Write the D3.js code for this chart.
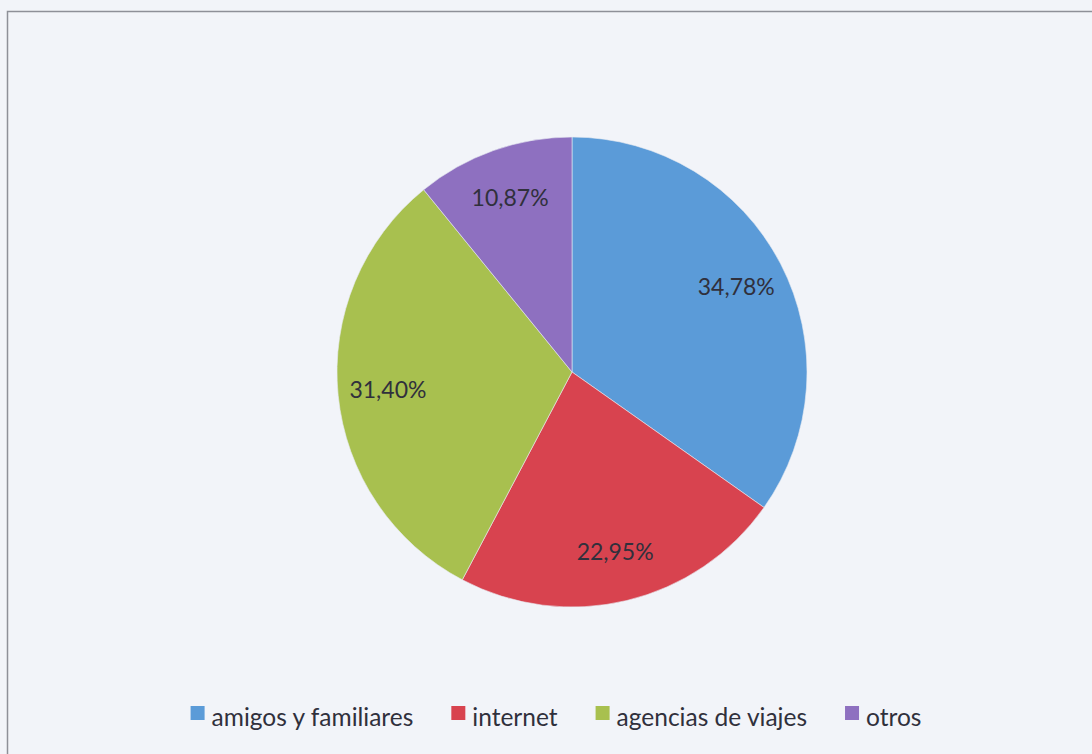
<!DOCTYPE html>
<html>
<head>
<meta charset="utf-8">
<script src="https://cdn.jsdelivr.net/npm/d3@7"></script>
<style>
  html, body { margin: 0; padding: 0; background: #f2f4f9; }
  svg { display: block; }
</style>
</head>
<body>
<svg id="chart" width="1092" height="754"></svg>
<script>
// Canales de información del viaje (porcentaje de respuestas)
const categories = ["amigos y familiares", "internet", "agencias de viajes", "otros"];
const values = [34.78, 22.95, 31.40, 10.87];
const valueLabels = ["34,78%", "22,95%", "31,40%", "10,87%"];
const colors = ["#5b9bd8", "#d8434f", "#a8c04f", "#8e70c0"];

const W = 1092, H = 754;
const cx = 572, cy = 372, R = 235;
const fontFamily = "Lato, 'Open Sans', sans-serif";
const textColor = "#30303c";

const svg = d3.select("#chart");

// fondo y marco del gráfico
svg.append("rect").attr("width", W).attr("height", H).attr("fill", "#f2f4f9");
svg.append("path")
  .attr("d", "M7.5," + H + " V11.5 H" + W)
  .attr("fill", "none")
  .attr("stroke", "#8e9098")
  .attr("stroke-width", 1.5);

const data = categories.map((c, i) => ({ name: c, value: values[i], label: valueLabels[i], color: colors[i] }));

const pie = d3.pie().value(d => d.value).sort(null).startAngle(0).endAngle(2 * Math.PI);
const arcs = pie(data);

const arc = d3.arc().innerRadius(0).outerRadius(R);
const labelArc = d3.arc().innerRadius(185).outerRadius(185);

const g = svg.append("g").attr("transform", `translate(${cx},${cy})`);

g.selectAll("path.slice")
  .data(arcs)
  .join("path")
  .attr("class", "slice")
  .attr("d", arc)
  .attr("fill", d => d.data.color)
  .attr("stroke", "#e8ebf2")
  .attr("stroke-width", 0.6);

g.selectAll("text.value")
  .data(arcs)
  .join("text")
  .attr("class", "value")
  .attr("transform", d => `translate(${labelArc.centroid(d)})`)
  .attr("text-anchor", "middle")
  .attr("dy", "0.35em")
  .attr("font-family", fontFamily)
  .attr("font-size", 23)
  .attr("fill", textColor)
  .text(d => d.data.label);

// leyenda centrada bajo el gráfico
const legend = svg.append("g");
const sq = 14, gapSq = 7, gapItem = 38, legendFont = 24.5, baseline = 726;
const items = legend.selectAll("g.item").data(data).join("g").attr("class", "item");
items.append("rect")
  .attr("width", sq).attr("height", sq)
  .attr("y", baseline - 20)
  .attr("fill", d => d.color);
items.append("text")
  .attr("x", sq + gapSq)
  .attr("y", baseline)
  .attr("font-family", fontFamily)
  .attr("font-size", legendFont)
  .attr("fill", textColor)
  .text(d => d.name);

let x = 0;
const offsets = [];
items.each(function () {
  const w = d3.select(this).select("text").node().getComputedTextLength();
  offsets.push(x);
  x += sq + gapSq + w + gapItem;
});
const total = x - gapItem;
const startX = 556 - total / 2;
items.attr("transform", (d, i) => `translate(${startX + offsets[i]},0)`);
</script>
</body>
</html>
